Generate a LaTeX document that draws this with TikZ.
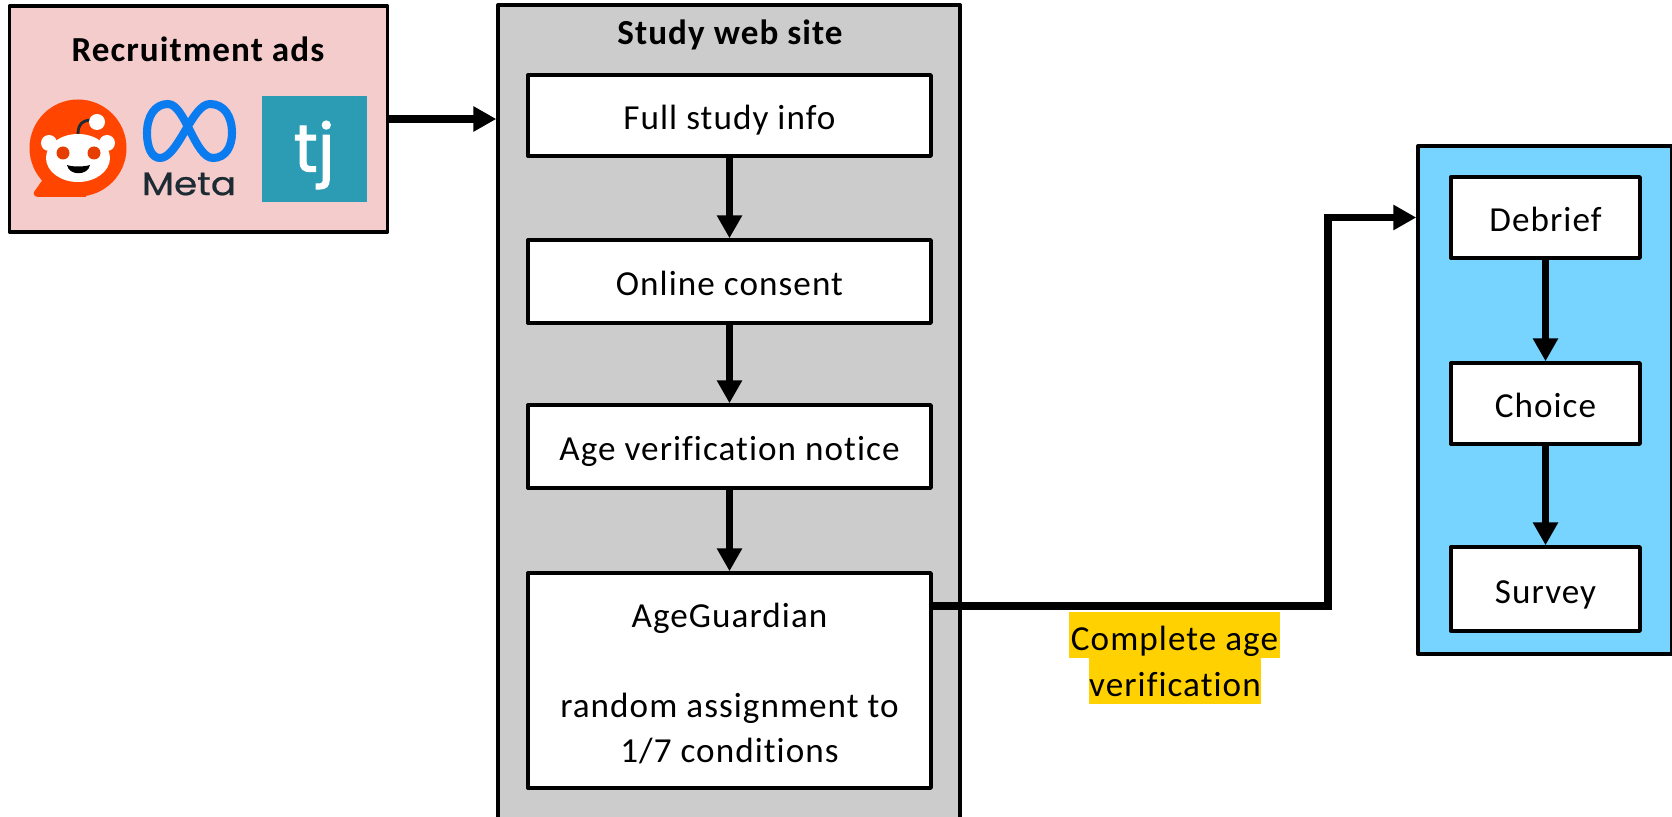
\documentclass[tikz,border=0pt]{standalone}
\usepackage{fontspec}
\setmainfont[LetterSpace=3,Ligatures=NoCommon]{Carlito}
\newfontfamily\logofont[FakeBold=1.5]{Poppins}
\newfontfamily\metafont[FakeBold=0.6]{Poppins}
\usetikzlibrary{arrows.meta}
\definecolor{pinkbg}{HTML}{F4CCCC}
\definecolor{graybg}{HTML}{CCCCCC}
\definecolor{bluebg}{HTML}{76D4FF}
\definecolor{hilite}{HTML}{FFD100}
\definecolor{redd}{HTML}{FF4500}
\definecolor{metab}{HTML}{0A7CF0}
\definecolor{metat}{HTML}{1C2B33}
\definecolor{tjbg}{HTML}{2B9CB3}
\tikzset{
  panel/.style={draw=black,line width=2pt,line join=round,inner sep=0pt},
  stepbase/.style={panel,fill=white,font=\fontsize{20pt}{25.5pt}\selectfont},
  stepbox/.style={stepbase,text height=20pt,text depth=4pt},
  flow/.style={line width=4.1pt,-{Triangle[length=13pt,width=13.6pt]}},
  titletext/.style={font=\fontsize{20pt}{22pt}\selectfont\bfseries,inner sep=0pt},
  hl/.style={fill=hilite,inner sep=0pt,font=\fontsize{20pt}{22pt}\selectfont,text height=20pt,text depth=2pt}
}
\begin{document}
\begin{tikzpicture}[x=0.02cm,y=-0.02cm]
\useasboundingbox (0,0) rectangle (1672,817);
\begin{scope}
\clip (0,0) rectangle (1672,817);
% panels
\node[panel,fill=pinkbg,minimum width=7.56cm,minimum height=4.52cm] (ads) at (198.5,119) {};
\node[panel,fill=graybg,minimum width=9.24cm,minimum height=16.4cm] (site) at (729,415) {};
\node[panel,fill=bluebg,minimum width=5.08cm,minimum height=10.16cm] (post) at (1545,400) {};
% titles
\node[titletext] (adsT) at (198,49) {Recruitment ads};
\node[titletext] (siteT) at (730,35) {Study web site};
% step boxes
\node[stepbox,minimum width=8.06cm,minimum height=1.62cm] (info) at (729.5,115.5) {Full study info};
\node[stepbox,minimum width=8.06cm,minimum height=1.66cm] (consent) at (729.5,281.5) {Online consent};
\node[stepbox,minimum width=8.06cm,minimum height=1.66cm] (notice) at (729.5,446.5) {Age verification notice};
\node[stepbase,align=center,minimum width=8.06cm,minimum height=4.3cm] (guard) at (729.5,680.5) {\rule{0pt}{17.4pt}AgeGuardian\\[25.5pt]random assignment to\\1/7 conditions};
\node[stepbox,minimum width=3.78cm,minimum height=1.62cm] (debrief) at (1545.5,217.5) {Debrief};
\node[stepbox,minimum width=3.78cm,minimum height=1.62cm] (choice) at (1545.5,403.5) {Choice};
\node[stepbox,minimum width=3.78cm,minimum height=1.68cm] (survey) at (1545.5,589) {Survey};
% connectors
\coordinate (bend) at (1328,606);
\draw[flow] (ads.east) -- (ads.east -| site.west);
\draw[flow] (info) -- (consent);
\draw[flow] (consent) -- (notice);
\draw[flow] (notice) -- (guard);
\draw[flow] (debrief) -- (choice);
\draw[flow] (choice) -- (survey);
\draw[flow] (guard.east |- bend) -- (bend) -- (bend |- debrief) -- (debrief -| post.west);
% label
\node[hl,minimum width=4.22cm,minimum height=0.92cm] (lab1) at (1174.5,635) {Complete age};
\node[hl,minimum width=3.44cm,minimum height=0.92cm] (lab2) at (1175,681) {verification};
% reddit logo
\fill[redd] (78,148) circle (48.5);
\fill[redd] (46,175) -- (34,192) .. controls (33,196) and (36,197) .. (40,197) -- (86,197) -- (86,180) -- cycle;
\draw[metat,line width=1.6pt,line cap=round] (78,134) .. controls (78,124) and (83,120) .. (92,120);
\fill[white] (97,122) circle (8);
\fill[white] (49,143) circle (8);
\fill[white] (107,143) circle (8);
\fill[white] (78,158) ellipse (32 and 24);
\fill[redd!90!black] (63,153) circle (6.5);
\fill[redd!90!black] (94,153) circle (6.5);
\fill[black] (67,165) .. controls (72,167) and (84,167) .. (90,165) .. controls (88,176) and (69,176) .. (67,165) -- cycle;
% meta logo
\draw[metab,line width=4.6pt,line join=round]
  (168,104) .. controls (185,104) and (195,158) .. (213,158)
  .. controls (226,158) and (232,146) .. (232,133)
  .. controls (232,116) and (224,104) .. (210,104)
  .. controls (192,104) and (178,158) .. (160,158)
  .. controls (152,158) and (147,148) .. (147,133)
  .. controls (147,116) and (155,104) .. (168,104) -- cycle;
\node[text=metat,xscale=1.15,font=\metafont\fontsize{18.5pt}{20pt}\selectfont,inner sep=0pt] (metaT) at (189,184) {Meta};
% tj logo
\fill[tjbg] (262,96) rectangle (367,202);
\node[text=white,font=\logofont\fontsize{38pt}{40pt}\selectfont,inner sep=0pt] (tjT) at (314,155) {tj};
\end{scope}
\end{tikzpicture}
\end{document}
